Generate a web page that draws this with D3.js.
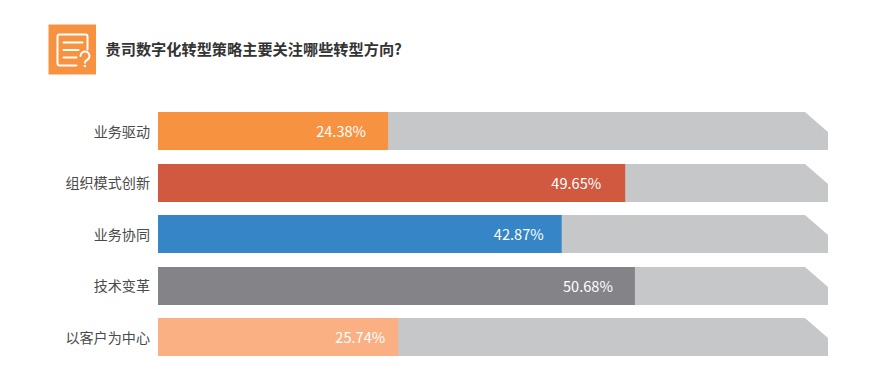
<!DOCTYPE html>
<html>
<head>
<meta charset="utf-8">
<script src="https://cdn.jsdelivr.net/npm/d3@7"></script>
<style>
  html, body { margin: 0; padding: 0; background: #fff; }
  text { font-family: "Noto Sans CJK SC", "Open Sans", sans-serif; }
</style>
</head>
<body>
<div id="container"></div>
<script>
const title = "贵司数字化转型策略主要关注哪些转型方向?"
const categories = ["业务驱动", "组织模式创新", "业务协同", "技术变革", "以客户为中心"]
const values = [24.38, 49.65, 42.87, 50.68, 25.74]
// bar lengths as drawn, they differ slightly from the printed labels
const barValues = [24.45, 49.65, 42.9, 50.68, 25.53]
const colors = ["#f79240", "#d0593f", "#3585c7", "#848488", "#fbb084"]
const trackMax = 71.2

const width = 872
const height = 378
const trackColor = "#c6c7c9"

// value labels do not sit at a constant distance from the bar end in the original
const labelGaps = [22, 24, 18, 22, 13]

const svg = d3.select("#container").append("svg")
              .attr("width", width)
              .attr("height", height)
              .style("display", "block")

// create scales
const xScale = d3.scaleLinear().domain([0, trackMax]).range([158, 828])
const yScale = d3.scaleBand()
                 .domain(categories)
                 .range([112, 356])
                 .paddingInner(0.262)
// snap rows to whole pixels, half rows go down
const rowY = d => Math.round(yScale(d) + 0.25)
const barHeight = Math.round(yScale.bandwidth())

// grey tracks with the cut corner
const chamfer = {x: 23, y: 20}
svg.selectAll(".track")
   .data(categories)
   .join("path")
   .attr("class", "track")
   .attr("fill", trackColor)
   .attr("d", d => {
       const path = d3.path()
       const x0 = xScale(0), x1 = xScale(trackMax)
       const y0 = rowY(d), y1 = y0 + barHeight
       path.moveTo(x0, y0)
       path.lineTo(x1 - chamfer.x, y0)
       path.lineTo(x1, y0 + chamfer.y)
       path.lineTo(x1, y1)
       path.lineTo(x0, y1)
       path.closePath()
       return path.toString()
   })

// coloured bars
svg.selectAll(".bar")
   .data(barValues)
   .join("rect")
   .attr("class", "bar")
   .attr("x", xScale(0))
   .attr("y", (d, i) => rowY(categories[i]))
   .attr("width", d => xScale(d) - xScale(0))
   .attr("height", barHeight)
   .attr("fill", (d, i) => colors[i])

// value labels
svg.selectAll(".value")
   .data(values)
   .join("text")
   .attr("class", "value")
   .text(d => d.toFixed(2) + "%")
   .attr("x", (d, i) => xScale(barValues[i]) - labelGaps[i])
   .attr("y", (d, i) => rowY(categories[i]) + barHeight / 2 + 1)
   .attr("dy", "0.35em")
   .attr("text-anchor", "end")
   .attr("font-size", "14.6px")
   .attr("fill", "#fff")

// category axis
const yAxis = d3.axisLeft(yScale).tickSize(0).tickPadding(8)
const axis = svg.append("g")
                .attr("transform", `translate(${xScale(0)}, 1)`)
                .call(yAxis)
axis.select(".domain").remove()
axis.selectAll("text")
    .attr("font-size", "14.1px")
    .attr("font-family", '"Noto Sans CJK SC", sans-serif')
    .attr("fill", "#4a4a4a")

// header icon
const icon = svg.append("g").attr("transform", "translate(48.5, 24.5)")
icon.append("rect")
    .attr("width", 47.5)
    .attr("height", 50)
    .attr("fill", "#f79240")
const iconStroke = g => g.attr("fill", "none")
                         .attr("stroke", "#fff")
                         .attr("stroke-width", 2)
                         .attr("stroke-linecap", "round")
                         .attr("stroke-linejoin", "round")
icon.append("path")
    .call(iconStroke)
    .attr("d", "M28 41H11a2 2 0 0 1-2-2V12a2 2 0 0 1 2-2H37a2 2 0 0 1 2 2V25")
icon.append("path")
    .call(iconStroke)
    .attr("d", "M15 18H34M15 25.5H30M15 33H28")
icon.append("path")
    .call(iconStroke)
    .attr("d", "M32 31.5a4.5 4.5 0 1 1 7 3.7c-1.5 1-2.6 1.6-2.6 3")
icon.append("circle")
    .attr("cx", 36.4)
    .attr("cy", 41.5)
    .attr("r", 1.2)
    .attr("fill", "#fff")

// title
svg.append("text")
   .text(title)
   .attr("x", 105.5)
   .attr("y", 55)
   .attr("font-size", "15.2px")
   .attr("font-weight", 700)
   .attr("fill", "#333")
</script>
</body>
</html>
